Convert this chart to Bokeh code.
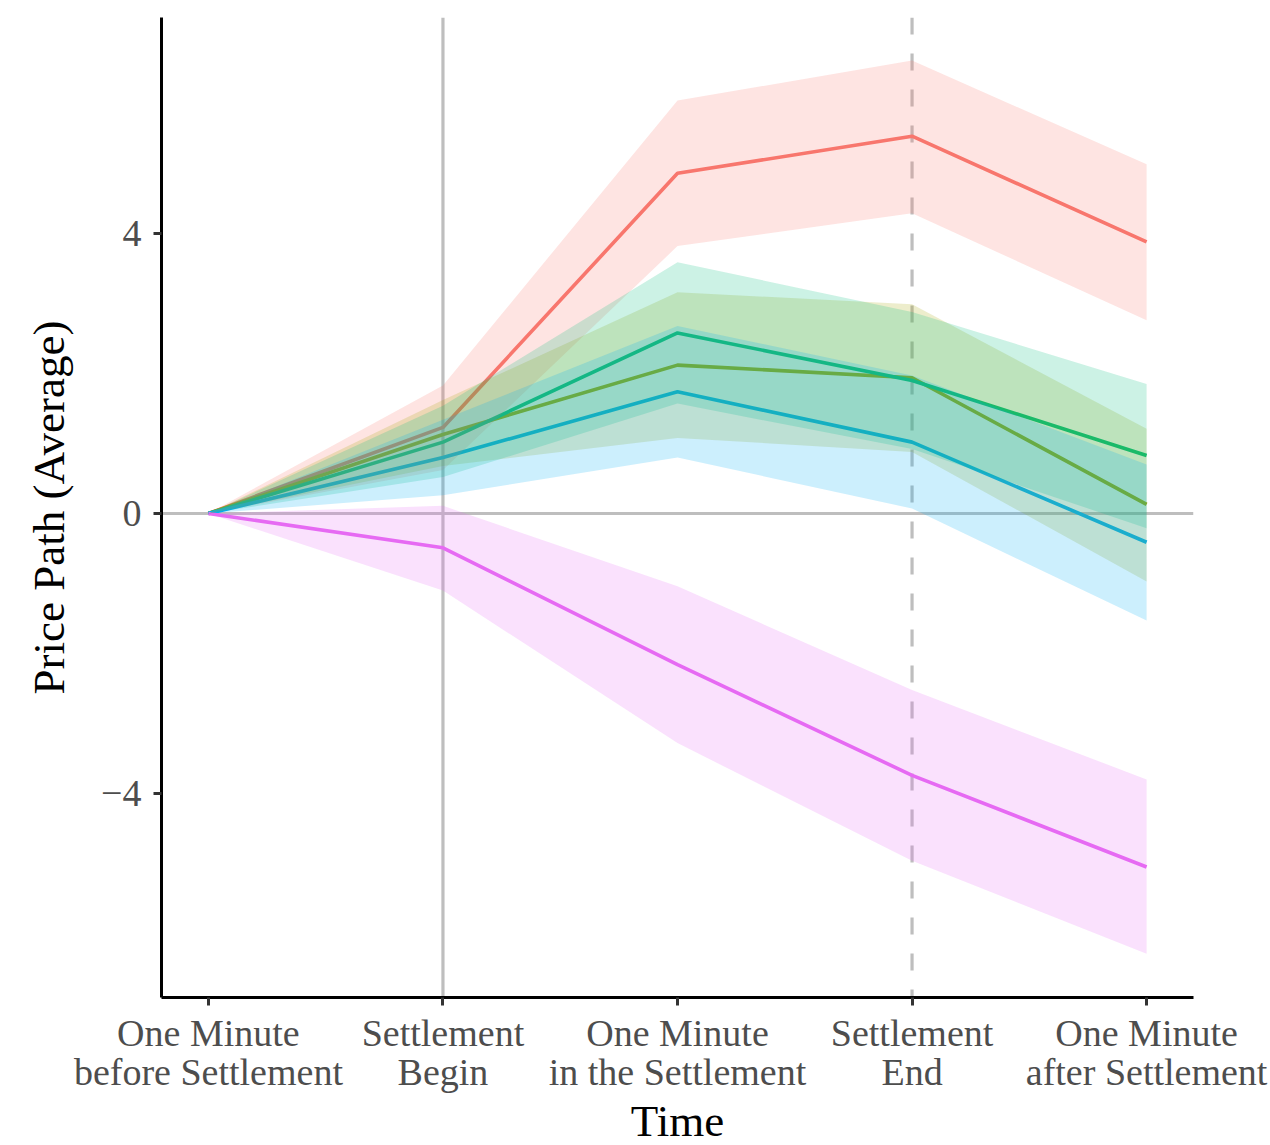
from bokeh.plotting import figure
from bokeh.models import Range1d, FixedTicker, Span
from bokeh.embed import file_html
from bokeh.resources import INLINE

# ---- data ----
x = [1, 2, 3, 4, 5]
tick_labels = ["One Minute\nbefore Settlement", "Settlement\nBegin",
               "One Minute\nin the Settlement", "Settlement\nEnd",
               "One Minute\nafter Settlement"]

red_mean = [0, 1.23, 4.86, 5.39, 3.88]
red_lo = [0, 0.62, 3.82, 4.29, 2.76]
red_hi = [0, 1.83, 5.90, 6.47, 4.99]

olive_mean = [0, 1.13, 2.12, 1.94, 0.13]
olive_lo = [0, 0.68, 1.08, 0.88, -0.97]
olive_hi = [0, 1.62, 3.16, 2.99, 1.21]

green_mean = [0, 1.02, 2.58, 1.90, 0.83]
green_lo = [0, 0.52, 1.57, 0.92, -0.21]
green_hi = [0, 1.54, 3.59, 2.88, 1.85]

blue_mean = [0, 0.80, 1.74, 1.02, -0.41]
blue_lo = [0, 0.26, 0.80, 0.07, -1.53]
blue_hi = [0, 1.34, 2.68, 1.97, 0.70]

mag_mean = [0, -0.49, -2.16, -3.74, -5.05]
mag_lo = [0, -1.10, -3.28, -4.96, -6.29]
mag_hi = [0, 0.11, -1.04, -2.52, -3.80]

series = [
    ("#F8766D", red_mean, red_lo, red_hi),
    ("#A3A500", olive_mean, olive_lo, olive_hi),
    ("#00BF7D", green_mean, green_lo, green_hi),
    ("#00B0F6", blue_mean, blue_lo, blue_hi),
    ("#E76BF3", mag_mean, mag_lo, mag_hi),
]

FONT = "Liberation Serif"

p = figure(frame_width=1032, frame_height=980,
           min_border_left=161, min_border_right=77,
           min_border_top=17, min_border_bottom=148,
           x_range=Range1d(0.8, 5.2), y_range=Range1d(-6.914, 7.086),
           output_backend="svg", toolbar_location=None,
           background_fill_color="white", border_fill_color="white")
p.outline_line_color = None
p.grid.visible = False

# reference lines
p.add_layout(Span(location=0, dimension="width", line_color="#BEBEBE", line_width=3.2, level="underlay"))
p.add_layout(Span(location=2, dimension="height", line_color="#BEBEBE", line_width=3.2, level="underlay"))
p.add_layout(Span(location=4, dimension="height", line_color="#BEBEBE", line_width=3.2,
                  line_dash="17 19", level="underlay"))

for col, m, lo, hi in series:
    p.line(x, m, line_color=col, line_width=3.6)
for col, m, lo, hi in series:
    p.varea(x=x, y1=lo, y2=hi, fill_color=col, fill_alpha=0.2)

# axes
for ax in (p.xaxis[0], p.yaxis[0]):
    ax.axis_line_color = "black"
    ax.axis_line_width = 3
    ax.major_tick_line_color = "#333333"
    ax.major_tick_line_width = 3
    ax.major_tick_out = 8
    ax.major_tick_in = 0
    ax.minor_tick_line_color = None
    ax.major_label_text_font = FONT
    ax.major_label_text_color = "#4D4D4D"
    ax.major_label_text_font_size = "38px"
    ax.axis_label_text_font = FONT
    ax.axis_label_text_font_size = "45px"
    ax.axis_label_text_font_style = "normal"
    ax.axis_label_text_color = "black"

p.xaxis.ticker = FixedTicker(ticks=x)
p.xaxis.major_label_overrides = {i: t for i, t in zip(x, tick_labels)}
p.xaxis.major_label_text_line_height = 0.93
p.xaxis.major_label_standoff = 6
p.xaxis.axis_label = "Time"
p.xaxis.axis_label_standoff = 0

p.yaxis.ticker = FixedTicker(ticks=[-4, 0, 4])
p.yaxis.major_label_overrides = {-4: "\u22124", 0: "0", 4: "4"}
p.yaxis.major_label_standoff = 12
p.yaxis.axis_label = "Price Path (Average)"
p.yaxis.axis_label_standoff = 24

open("out.html", "w").write(file_html(p, INLINE))
